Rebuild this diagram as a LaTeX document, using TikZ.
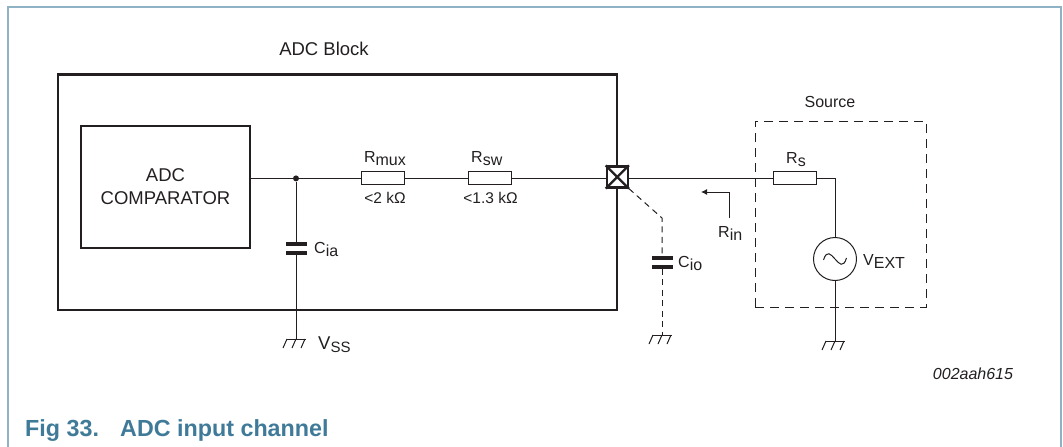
\documentclass[tikz,border=0pt]{standalone}
\usepackage{fontspec}
\setmainfont{Liberation Sans}
\usetikzlibrary{shapes, arrows.meta, calc}
\definecolor{ink}{HTML}{231F20}
\definecolor{framecol}{HTML}{8FB2C4}
\definecolor{titlecol}{HTML}{3F7A99}
\newcommand{\lbl}[2]{#1\raisebox{-3pt}{#2}}
\tikzset{
	txt/.style={text=ink, inner sep=0pt, anchor=base west, font=\fontsize{16}{16}\selectfont},
	val/.style={text=ink, inner sep=0pt, anchor=base, font=\fontsize{15.5}{15.5}\selectfont},
	res/.style={rectangle, draw=ink, fill=white, line width=1pt, minimum width=43pt, minimum height=13pt, inner sep=0pt},
	plate/.style={rectangle, fill=ink, minimum width=21pt, minimum height=3.4pt, inner sep=0pt},
	gnd/.style={draw=ink, line width=1pt},
	wire/.style={ink, line width=1pt},
	dashwire/.style={wire, dash pattern=on 6pt off 4.5pt},
	caption/.style={text=titlecol, inner sep=0pt, anchor=base west, font=\fontsize{23.3}{23.3}\selectfont\bfseries},
}
\newcommand{\earth}[1]{%
	\draw[gnd] ($(#1)+(-9,0)$) -- ($(#1)+(9.5,0)$);
	\foreach \dx in {-9,0,9}{\draw[gnd] ($(#1)+(\dx,0)$) -- ++(-4,9);}
}
\begin{document}
\begin{tikzpicture}[x=1pt, y=-1pt]
		\def\yw{178.4}
		\useasboundingbox (0,0) rectangle (1063,447);
		% outer frame, open at the bottom
		\draw[framecol, line width=1.2pt] (8,447) -- (8,7) -- (1061,7) -- (1061,447);
		\node[caption] (fig) at (25,436) {Fig 33.};
		\node[caption] (title) at (120,436) {ADC input channel};
		\node[text=ink, inner sep=0pt, anchor=base, font=\fontsize{16}{16}\selectfont\itshape] (code) at (973,379) {002aah615};
		% blocks
		\node[rectangle, draw=ink, line width=2.3pt, minimum width=559pt, minimum height=235.5pt, inner sep=0pt] (block) at (337.5,192.25) {};
		\node[text=ink, inner sep=0pt, anchor=base, font=\fontsize{18.5}{18.5}\selectfont] (blocklbl) at (324,55) {ADC Block};
		\node[rectangle, draw=ink, line width=2pt, minimum width=169pt, minimum height=122pt, inner sep=0pt, align=center, text=ink, font=\fontsize{18.5}{23}\selectfont] (comp) at (165.5,187) {ADC\\COMPARATOR};
		\node[rectangle, draw=ink, dash pattern=on 9pt off 6pt, line width=1pt, minimum width=171pt, minimum height=186pt, inner sep=0pt] (source) at (840.5,214) {};
		\node[txt, anchor=base] (sourcelbl) at (830,107) {Source};
		% top wire
		\node[circle, fill=ink, inner sep=0pt, minimum size=6pt] (dot) at (296,\yw) {};
		\node[res] (rmux) at (383,\yw) {};
		\node[res] (rsw) at (489.5,\yw) {};
		\node[rectangle, draw=ink, fill=white, line width=2.3pt, minimum size=21pt, inner sep=0pt] (pad) at (617.3,177) {};
		\draw[ink, line width=2.3pt] (pad.north west) -- (pad.south east);
		\draw[ink, line width=2.3pt] (pad.north east) -- (pad.south west);
		\node[res] (rs) at (795,\yw) {};
		\node[circle, draw=ink, line width=1pt, minimum size=43pt, inner sep=0pt] (vext) at (835,259) {};
		\draw[wire] ($(vext)+(-11.5,1)$) .. controls ($(vext)+(-5,-20)$) and ($(vext)+(5,20)$) .. ($(vext)+(11.5,-1)$);
		\coordinate (corner) at (835,\yw);
		\coordinate (gs) at (835,341);
		\draw[wire] (comp.east |- dot) -- (dot);
		\draw[wire] (dot) -- (rmux);
		\draw[wire] (rmux) -- (rsw);
		\draw[wire] (rsw) -- (pad.west |- rsw);
		\draw[wire] (pad.east |- rs) -- (rs);
		\draw[wire] (rs) -- (corner) -- (vext);
		\draw[wire] (vext) -- (gs);
		\earth{gs}
		% internal capacitor
		\node[plate] (ciatop) at (296,244) {};
		\node[plate] (ciabot) at (296,253) {};
		\coordinate (gi) at (296,339);
		\draw[wire] (dot) -- (ciatop);
		\draw[wire] (ciabot) -- (gi);
		\earth{gi}
		% pad capacitor
		\node[plate] (ciotop) at (662,258) {};
		\node[plate] (ciobot) at (662,267) {};
		\coordinate (bend) at (662,218);
		\coordinate (gp) at (662,335);
		\draw[dashwire] (pad.south east) -- (bend) -- (ciotop);
		\draw[dashwire] (ciobot) -- (gp);
		\earth{gp}
		% input resistance arrow
		\coordinate (rinfrom) at (729,218);
		\coordinate (rinto) at (701,192);
		\draw[wire, -{Latex[length=6pt,width=6pt]}] (rinfrom) |- (rinto);
		% labels
		\node[txt, anchor=base] (rmuxlbl) at (385,162) {\lbl{R}{mux}};
		\node[txt] (rswlbl) at (471,162) {\lbl{R}{sw}};
		\node[val] (rmuxval) at (385,203) {<2 kΩ};
		\node[val] (rswval) at (490.5,203) {<1.3 kΩ};
		\node[txt] (cialbl) at (314,253) {\lbl{C}{ia}};
		\node[txt, font=\fontsize{18.5}{18.5}\selectfont] (vsslbl) at (318,349) {\lbl{V}{\fontsize{15}{15}\selectfont SS}};
		\node[txt] (ciolbl) at (678,267) {\lbl{C}{io}};
		\node[txt] (rinlbl) at (718,237) {\lbl{R}{in}};
		\node[txt] (rslbl) at (786,163) {\lbl{R}{s}};
		\node[txt] (vextlbl) at (863,265) {\lbl{V}{EXT}};
	\end{tikzpicture}
\end{document}
